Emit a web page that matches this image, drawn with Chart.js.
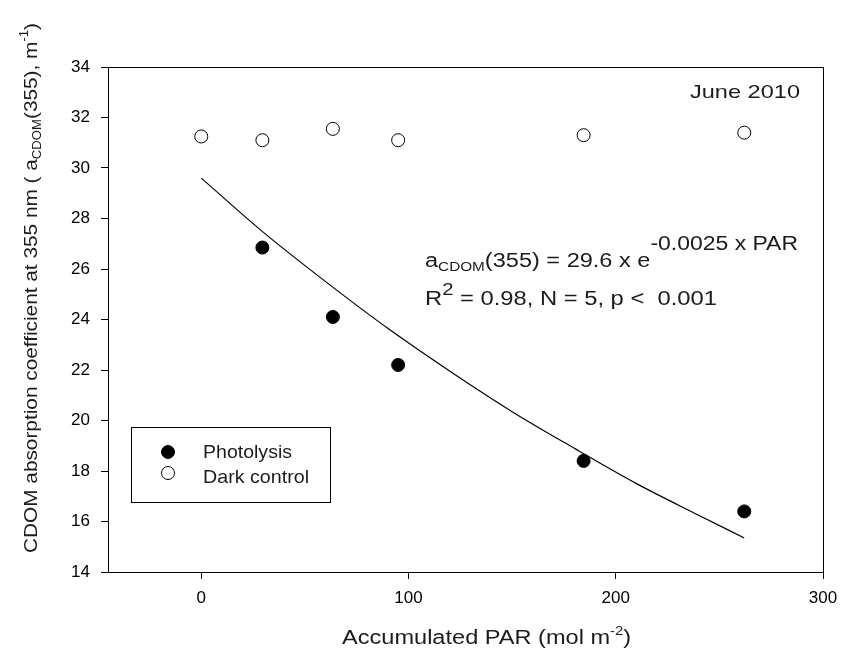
<!DOCTYPE html>
<html>
<head>
<meta charset="utf-8">
<script src="https://cdn.jsdelivr.net/npm/chart.js@4/dist/chart.umd.min.js"></script>
<style>
  html, body { margin: 0; padding: 0; background: #fff; }
  #wrap { width: 856px; height: 657px; }
</style>
</head>
<body>
<div id="wrap"><canvas id="grafico" width="856" height="657"></canvas></div>
<script>
// valores
const photoPAR = [29.5, 63.5, 95, 184.5, 262];
const photoCDOM = [26.85, 24.1, 22.2, 18.4, 16.4];
const darkPAR = [0, 29.5, 63.5, 95, 184.5, 262];
const darkCDOM = [31.25, 31.1, 31.55, 31.1, 31.3, 31.4];
const fitPAR = [0, 30, 60, 90, 120, 150, 180, 210, 240, 262];
const fitCDOM = [29.6, 27.45, 25.5, 23.65, 21.95, 20.35, 18.9, 17.5, 16.25, 15.35];
const xTicks = [0, 100, 200, 300];
const yTicks = [14, 16, 18, 20, 22, 24, 26, 28, 30, 32, 34];
const seriesNames = ["Photolysis", "Dark control"];

const FONTE = "'Liberation Sans', Arial, Helvetica, sans-serif";
const COR_TEXTO = "#1c1c1c";

// desenha texto com partes normais, subscritas e sobrescritas, ajustado a uma largura
function textoRico(ctx, partes, x, y, largura) {
    ctx.save();
    let total = 0;
    partes.forEach(p => {
        ctx.font = `${p.size}px ${FONTE}`;
        total += ctx.measureText(p.t).width;
    });
    const sx = largura ? largura / total : 1;
    ctx.translate(x, y);
    ctx.scale(sx, 1);
    ctx.fillStyle = COR_TEXTO;
    ctx.textBaseline = "alphabetic";
    ctx.textAlign = "left";
    let cx = 0;
    partes.forEach(p => {
        ctx.font = `${p.size}px ${FONTE}`;
        ctx.fillText(p.t, cx, p.dy || 0);
        cx += ctx.measureText(p.t).width;
    });
    ctx.restore();
}

const textosPlugin = {
    id: "textosPlugin",
    afterDraw(chart) {
        const { ctx, chartArea } = chart;

        // moldura completa
        ctx.save();
        ctx.strokeStyle = "#000";
        ctx.lineWidth = 1;
        ctx.strokeRect(chartArea.left + 0.5, chartArea.top + 0.5,
            chartArea.right - chartArea.left, chartArea.bottom - chartArea.top);
        ctx.restore();

        textoRico(ctx, [{ t: "June 2010", size: 19 }], 690, 98, 110);

        textoRico(ctx, [
            { t: "a", size: 20 },
            { t: "CDOM", size: 13, dy: 4 },
            { t: "(355) = 29.6 x e", size: 20 },
            { t: "-0.0025 x PAR", size: 19.5, dy: -17 }
        ], 425, 267, 373);

        textoRico(ctx, [
            { t: "R", size: 20 },
            { t: "2", size: 17, dy: -10 },
            { t: " = 0.98, N = 5, p <  0.001", size: 20 }
        ], 425, 305, 292);

        // legenda
        ctx.save();
        ctx.strokeStyle = "#000";
        ctx.lineWidth = 1;
        ctx.strokeRect(131.5, 427.5, 199, 75);
        const ds = chart.data.datasets;
        [[ds[0], 452], [ds[1], 473]].forEach(([d, yy]) => {
            ctx.beginPath();
            ctx.arc(168, yy, d.pointRadius, 0, Math.PI * 2);
            ctx.fillStyle = d.pointBackgroundColor;
            ctx.fill();
            ctx.strokeStyle = d.pointBorderColor;
            ctx.lineWidth = d.pointBorderWidth;
            ctx.stroke();
        });
        ctx.restore();
        textoRico(ctx, [{ t: seriesNames[0], size: 18.5 }], 203, 458, 89);
        textoRico(ctx, [{ t: seriesNames[1], size: 18.5 }], 203, 483, 106);

        // títulos dos eixos
        textoRico(ctx, [
            { t: "Accumulated PAR (mol m", size: 20 },
            { t: "-2", size: 12.5, dy: -9 },
            { t: ")", size: 20 }
        ], 342, 644, 289);

        ctx.save();
        ctx.translate(37, 553);
        ctx.rotate(-Math.PI / 2);
        textoRico(ctx, [
            { t: "CDOM absorption coefficient at 355 nm ( a", size: 19 },
            { t: "CDOM", size: 12, dy: 4 },
            { t: "(355), m", size: 19 },
            { t: "-1", size: 12, dy: -9 },
            { t: ")", size: 19 }
        ], 0, 0, 530);
        ctx.restore();
    }
};

const eixoTicks = {
    color: "#000",
    font: { family: FONTE, size: 17 }
};

new Chart(document.getElementById("grafico").getContext("2d"), {
    type: "scatter",
    data: {
        datasets: [
            {
                label: seriesNames[0],
                data: photoPAR.map((x, i) => ({ x, y: photoCDOM[i] })),
                pointRadius: 6.5,
                pointBackgroundColor: "#000",
                pointBorderColor: "#000",
                pointBorderWidth: 1
            },
            {
                label: seriesNames[1],
                data: darkPAR.map((x, i) => ({ x, y: darkCDOM[i] })),
                pointRadius: 6.5,
                pointBackgroundColor: "#fff",
                pointBorderColor: "#000",
                pointBorderWidth: 1
            },
            {
                type: "line",
                label: "fit",
                data: fitPAR.map((x, i) => ({ x, y: fitCDOM[i] })),
                borderColor: "#000",
                borderWidth: 1.2,
                pointRadius: 0,
                cubicInterpolationMode: "monotone",
                fill: false
            }
        ]
    },
    options: {
        responsive: false,
        animation: false,
        events: [],
        layout: { padding: { left: 0, top: 67, right: 33, bottom: 0 } },
        plugins: {
            legend: { display: false },
            tooltip: { enabled: false }
        },
        scales: {
            x: {
                type: "linear",
                min: -45,
                max: 300,
                afterFit(scale) { scale.height = 85; },
                afterBuildTicks(scale) { scale.ticks = xTicks.map(v => ({ value: v })); },
                grid: { drawOnChartArea: false, drawTicks: true, tickLength: 7, color: "#000" },
                border: { display: true, color: "#000", width: 1 },
                ticks: { ...eixoTicks, padding: 9, maxRotation: 0 }
            },
            y: {
                type: "linear",
                min: 14,
                max: 34,
                afterFit(scale) { scale.width = 108; },
                afterBuildTicks(scale) { scale.ticks = yTicks.map(v => ({ value: v })); },
                grid: { drawOnChartArea: false, drawTicks: true, tickLength: 7, color: "#000" },
                border: { display: true, color: "#000", width: 1 },
                ticks: { ...eixoTicks, padding: 11 }
            }
        }
    },
    plugins: [textosPlugin]
});
</script>
</body>
</html>
